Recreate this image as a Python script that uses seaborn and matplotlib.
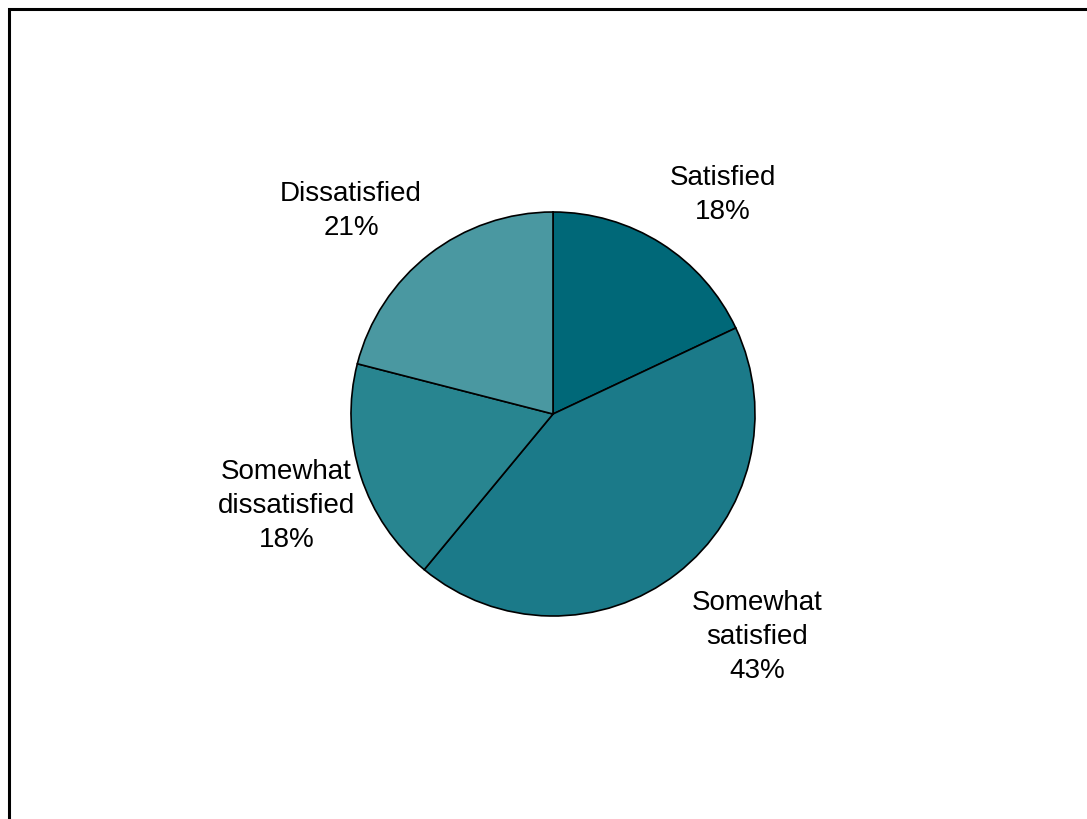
import matplotlib
matplotlib.use("Agg")
import matplotlib.pyplot as plt
import matplotlib.patches as mpatches
import seaborn as sns

sns.set_theme(style="white")
plt.rcParams['font.family'] = ['Liberation Sans', 'DejaVu Sans']

# Satisfaction shares, clockwise from 12 o'clock
categories = ["Satisfied", "Somewhat satisfied", "Somewhat dissatisfied", "Dissatisfied"]
shares = [18, 43, 18, 21]
label_texts = ["Satisfied\n18%", "Somewhat\nsatisfied\n43%", "Somewhat\ndissatisfied\n18%", "Dissatisfied\n21%"]

colors = ["#006878", "#1b7a89", "#288590", "#4a98a1"]
label_xy = [(0.84, 1.09), (1.01, -1.10), (-1.32, -0.45), (-1.00, 1.01)]

W, H = 1087, 820
fig = plt.figure(figsize=(W / 100, H / 100), dpi=100)
fig.patch.set_facecolor("white")

cx, cy, r = 553, 415, 202
ax = fig.add_axes([(cx - r) / W, (H - cy - r) / H, 2 * r / W, 2 * r / H])
ax.pie(shares, colors=colors, startangle=90, counterclock=False,
       wedgeprops=dict(edgecolor="black", linewidth=1.2))
ax.set_xlim(-1, 1)
ax.set_ylim(-1, 1)
ax.set_aspect("equal")
ax.axis("off")

for text, (x, y) in zip(label_texts, label_xy):
    ax.text(x, y, text, ha="center", va="center", fontsize=20,
            color="black", linespacing=1.4)

# outer frame, open at the right and bottom edges
frame = mpatches.Rectangle((8.5 / W, -0.2), 1.2, (H - 9.5) / H + 0.2,
                           transform=fig.transFigure, fill=False,
                           edgecolor="black", linewidth=2.2)
fig.patches.append(frame)

fig.savefig("out.png", dpi=100, facecolor="white")
